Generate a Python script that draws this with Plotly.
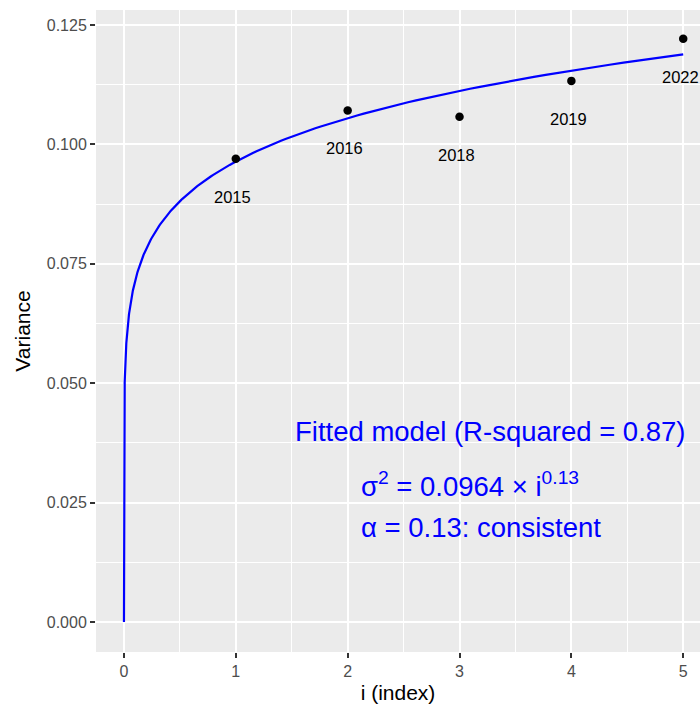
import numpy as np
import plotly.graph_objects as go

# Observed variance per index, labelled by year
years = ["2015", "2016", "2018", "2019", "2022"]
index_i = [1, 2, 3, 4, 5]
variance = [0.0970, 0.1071, 0.1058, 0.1133, 0.1221]

# Fitted power-law model: sigma^2 = a * i^alpha
coef_a = 0.0964
alpha = 0.13
r_squared = 0.87

x_ticks = [0, 1, 2, 3, 4, 5]
y_ticks = [0.0, 0.025, 0.05, 0.075, 0.1, 0.125]

FONT = "Liberation Sans, Arial, sans-serif"

# Dense sampling near zero so the steep rise at the origin is drawn
x_fit = np.concatenate([[0.0], np.logspace(-14, np.log10(5), 1200)])
y_fit = coef_a * x_fit ** alpha

fig = go.Figure()
fig.add_trace(go.Scatter(
    x=x_fit, y=y_fit, mode="lines",
    line=dict(color="#0000FF", width=2.2),
    hoverinfo="skip", showlegend=False,
))
fig.add_trace(go.Scatter(
    x=index_i, y=variance, mode="markers",
    marker=dict(color="black", size=8.5),
    showlegend=False,
))

# Year labels under each point
for xi, yi, lab in zip(index_i, variance, years):
    fig.add_annotation(
        x=xi, y=yi, text=lab, showarrow=False,
        xshift=-3, yshift=-38,
        font=dict(family=FONT, size=16.5, color="black"),
    )

# Model summary text
verdict = "consistent"
model_lines = [
    (3.275, 0.03985, f"Fitted model (R-squared = {r_squared:.2f})"),
    (3.09, 0.02877, f"σ<sup>2</sup> = {coef_a:.4f} × i<sup>{alpha:.2f}</sup>"),
    (3.195, 0.01977, f"α = {alpha:.2f}: {verdict}"),
]
for xa, ya, txt in model_lines:
    fig.add_annotation(
        x=xa, y=ya, text=txt, showarrow=False,
        font=dict(family=FONT, size=27.5, color="#0000FF"),
    )

fig.update_layout(
    width=700, height=704,
    margin=dict(l=96, r=0, t=10, b=52),
    paper_bgcolor="white",
    plot_bgcolor="#EBEBEB",
    font=dict(family=FONT),
)
fig.update_xaxes(
    range=[-0.25, 5.15],
    tickvals=x_ticks, ticktext=[str(v) for v in x_ticks],
    showgrid=True, gridcolor="white", gridwidth=2,
    minor=dict(dtick=0.5, tick0=0, showgrid=True, gridcolor="white", gridwidth=1),
    zeroline=False, showline=False,
    ticks="outside", ticklen=5, tickwidth=1.5, tickcolor="#333333",
    tickfont=dict(family=FONT, size=16, color="#4D4D4D"),
    title=dict(text="i (index)", font=dict(family=FONT, size=21, color="black"), standoff=10),
)
fig.update_yaxes(
    range=[-0.00628, 0.12814],
    tickvals=y_ticks, ticktext=[f"{v:.3f}" for v in y_ticks],
    showgrid=True, gridcolor="white", gridwidth=2,
    minor=dict(dtick=0.0125, tick0=0, showgrid=True, gridcolor="white", gridwidth=1),
    zeroline=False, showline=False,
    ticks="outside", ticklen=5, tickwidth=1.5, tickcolor="#333333",
    tickfont=dict(family=FONT, size=16, color="#4D4D4D"),
    title=dict(text="Variance", font=dict(family=FONT, size=21, color="black"), standoff=10),
)

fig.write_html("out.html")
